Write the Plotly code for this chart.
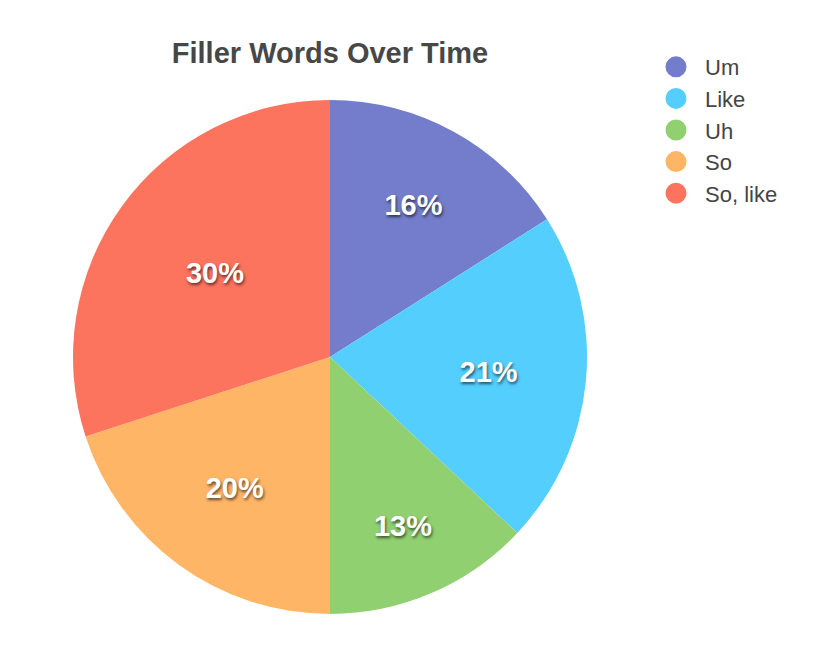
import plotly.graph_objects as go

categories = ["Um", "Like", "Uh", "So", "So, like"]
values = [16, 21, 13, 20, 30]
colors = ["#737DCB", "#54CEFD", "#91D071", "#FEB566", "#FC735E"]

W, H = 816, 646
OFF = 8  # page body margin
cx, cy, r = 330 - OFF, 357 - OFF, 257

fig = go.Figure()
fig.add_trace(go.Pie(
    labels=categories, values=values, sort=False, direction="clockwise",
    rotation=0,
    marker=dict(colors=colors, line=dict(width=0)),
    textinfo="percent", textposition="inside", insidetextorientation="horizontal",
    texttemplate="%{percent:.0%}",
    textfont=dict(family="Liberation Sans", size=29, color="white", weight="bold",
                  shadow="1px 2px 3px rgba(0,0,0,0.6)"),
    showlegend=False, hoverinfo="label+percent",
    domain=dict(x=[(cx - r) / W, (cx + r) / W], y=[(H - cy - r) / H, (H - cy + r) / H]),
))
for c, col in zip(categories, colors):
    fig.add_trace(go.Scatter(x=[None], y=[None], mode="markers", name=c,
                             marker=dict(symbol="circle", size=16, color=col,
                                         line=dict(width=5, color=col))))

fig.update_layout(
    width=W, height=H, margin=dict(l=0, r=0, t=0, b=0),
    paper_bgcolor="white", plot_bgcolor="white",
    title=dict(text="Filler Words Over Time", x=cx / W, xanchor="center",
               y=1 - (53 - OFF) / H, yanchor="middle",
               font=dict(family="Liberation Sans", size=29, color="#474747", weight="bold")),
    xaxis=dict(visible=False), yaxis=dict(visible=False),
    legend=dict(x=(647 - OFF) / W, y=1 - (46 - OFF) / H, xanchor="left", yanchor="top",
                font=dict(family="Liberation Sans", size=22, color="#444444"),
                itemwidth=48, tracegroupgap=0, bgcolor="rgba(0,0,0,0)"),
)
fig.write_html("out.html")
